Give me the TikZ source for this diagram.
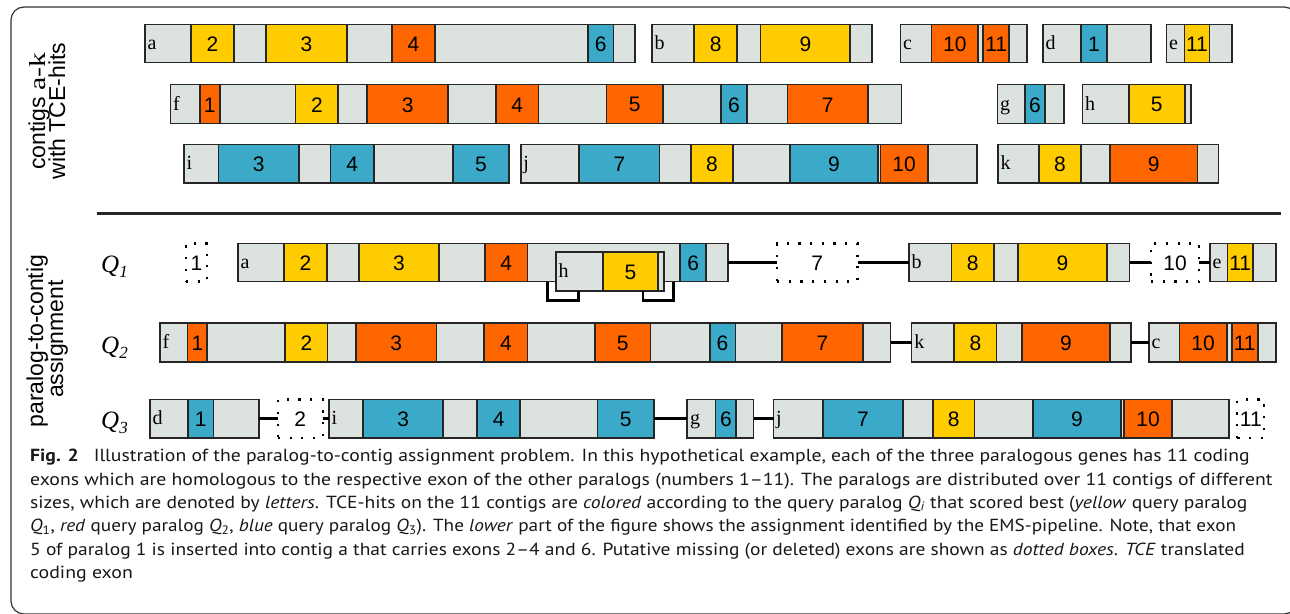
\documentclass[tikz,border=0pt]{standalone}
\usepackage{fontspec}
\usepackage{graphicx}
\usetikzlibrary{fit}
\setmainfont{PT Sans}
\newfontfamily\arialf{Liberation Sans}
\newfontfamily\timesf{Liberation Serif}
\newfontfamily\capff{PT Sans}
\definecolor{ylw}{HTML}{FFCC00}
\definecolor{org}{HTML}{FF6600}
\definecolor{blu}{HTML}{3AAAC8}
\definecolor{cgr}{HTML}{DCE3DF}
\definecolor{edge}{HTML}{262626}
\definecolor{captxt}{HTML}{1A1718}
\newcommand\digf{\arialf\fontsize{21}{21}\selectfont}
\newcommand\letf{\timesf\fontsize{20}{20}\selectfont}
\newcommand\labf{\arialf\fontsize{23}{23}\selectfont}
\newcommand\qfnt{\timesf\itshape\fontsize{25}{25}\selectfont}
\newcommand\capfont{\capff\fontsize{17.5}{17.5}\selectfont}
% contig: name, x1, x2, y1, y2, letter
\newcommand\ctg[6]{\node[ctgbox, fit={(#2,#4) (#3,#5)}] (#1) {};
  \node[lett] (#1L) at ([xshift=2.5pt,yshift=-6pt]#1.west) {#6};}
% exon: name, colour, x1, x2, y1, y2, text
\newcommand\exn[7]{\node[exbox, fill=#2, fit={(#3,#5) (#4,#6)}] (#1) {};
  \node[dig] (#1t) at ([yshift=-0.8pt]#1.center) {#7};}
% missing exon: name, x1, x2, y1, y2, text
\newcommand\mis[6]{\node[missbox, fit={(#2,#4) (#3,#5)}] (#1) {};
  \node[dig] (#1t) at ([yshift=-0.8pt]#1.center) {#6};}
\newcommand\qlab[3]{\node[qlab] (#1) at (101,#2) {Q\raisebox{-5pt}{\fontsize{17}{17}\selectfont #3}};}
% caption line: name, baseline y, width, text
\newcommand\capln[4]{\node[capline] (#1) at (30,#2) {\resizebox{#3pt}{\height}{#4}};}
\tikzset{
  ctgbox/.style={draw=edge, line width=1.7pt, fill=cgr, inner sep=0pt, outer sep=0pt},
  exbox/.style={draw=edge, line width=1.7pt, inner sep=0pt, outer sep=0pt},
  dig/.style={font=\digf, text=black, inner sep=0pt, anchor=center},
  missbox/.style={draw=black, line width=2.2pt, dash pattern=on 2.2pt off 9.5pt, inner sep=0pt, outer sep=0pt},
  lett/.style={font=\letf, inner sep=0pt, anchor=base west},
  conn/.style={line width=3pt, draw=black},
  brk/.style={line width=2.6pt, draw=black},
  rlab/.style={font=\labf, rotate=90, inner sep=0pt, anchor=base},
  qlab/.style={font=\qfnt, inner sep=0pt, anchor=base west},
  capline/.style={font=\capfont, text=captxt, inner sep=0pt, anchor=base west},
}
\begin{document}
\begin{tikzpicture}[x=1pt,y=-1pt]
\useasboundingbox (0,0) rectangle (1290,613);
\fill[white] (0,0) rectangle (1290,613);
\draw[line width=1.2pt, black!80, rounded corners=13pt] (11,7) rectangle (1297,614);

% ---------- row 1 ----------
\def\ya{24.5}\def\yb{62.5}
\ctg{ta}{145}{635}{\ya}{\yb}{a}
\exn{ta2}{ylw}{191}{234}{\ya}{\yb}{2}
\exn{ta3}{ylw}{266}{347}{\ya}{\yb}{3}
\exn{ta4}{org}{392}{435}{\ya}{\yb}{4}
\exn{ta6}{blu}{588}{613.5}{\ya}{\yb}{6}
\ctg{tb}{652}{872}{\ya}{\yb}{b}
\exn{tb8}{ylw}{694.3}{737}{\ya}{\yb}{8}
\exn{tb9}{ylw}{760.6}{850.2}{\ya}{\yb}{9}
\ctg{tc}{900.5}{1027}{\ya}{\yb}{c}
\exn{tc10}{org}{931.5}{978.3}{\ya}{\yb}{10}
\exn{tc11}{org}{983.3}{1009}{\ya}{\yb}{11}
\ctg{td}{1043}{1151}{\ya}{\yb}{d}
\exn{td1}{blu}{1081}{1107}{\ya}{\yb}{1}
\ctg{te}{1166.5}{1232}{\ya}{\yb}{e}
\exn{te11}{ylw}{1184.4}{1209.6}{\ya}{\yb}{11}

% ---------- row 2 ----------
\def\ya{84.5}\def\yb{123.5}
\ctg{tf}{170.4}{901.6}{\ya}{\yb}{f}
\exn{tf1}{org}{199.8}{219.7}{\ya}{\yb}{1}
\exn{tf2}{ylw}{295.6}{338.3}{\ya}{\yb}{2}
\exn{tf3}{org}{367.3}{448.2}{\ya}{\yb}{3}
\exn{tf4}{org}{495.9}{538.6}{\ya}{\yb}{4}
\exn{tf5}{org}{606.6}{662.8}{\ya}{\yb}{5}
\exn{tf6}{blu}{720.8}{747}{\ya}{\yb}{6}
\exn{tf7}{org}{787.6}{868}{\ya}{\yb}{7}
\ctg{tg}{997.4}{1063.7}{\ya}{\yb}{g}
\exn{tg6}{blu}{1024.7}{1045}{\ya}{\yb}{6}
\ctg{th}{1082.4}{1191}{\ya}{\yb}{h}
\exn{th5}{ylw}{1128.8}{1184.8}{\ya}{\yb}{5}

% ---------- row 3 ----------
\def\ya{144.5}\def\yb{183}
\ctg{ti}{184}{509}{\ya}{\yb}{i}
\exn{ti3}{blu}{218.5}{299}{\ya}{\yb}{3}
\exn{ti4}{blu}{330.4}{374}{\ya}{\yb}{4}
\exn{ti5}{blu}{452.7}{509}{\ya}{\yb}{5}
\ctg{tj}{520.7}{976.7}{\ya}{\yb}{j}
\exn{tj7}{blu}{579.2}{659.5}{\ya}{\yb}{7}
\exn{tj8}{ylw}{691}{732.9}{\ya}{\yb}{8}
\exn{tj9}{blu}{789.7}{878}{\ya}{\yb}{9}
\exn{tj10}{org}{880.5}{927.7}{\ya}{\yb}{10}
\ctg{tk}{997.8}{1218.4}{\ya}{\yb}{k}
\exn{tk8}{ylw}{1039.3}{1080.7}{\ya}{\yb}{8}
\exn{tk9}{org}{1109.7}{1197.6}{\ya}{\yb}{9}

% ---------- labels left ----------
\node[rlab] (lab1) at (45,111) {contigs {\timesf\scalebox{1.3}[1]{a-k}}};
\node[rlab] (lab2) at (65,111) {with TCE-hits};
\node[rlab] (lab3) at (43,341) {paralog-to-contig};
\node[rlab] (lab4) at (63,339) {assignment};

\draw[line width=2.5pt, edge] (97,213.5) -- (1281,213.5);

% ---------- Q1 ----------
\def\ya{243.5}\def\yb{281.5}
\qlab{q1lab}{272}{1}
\mis{m1}{186}{207}{\ya}{\yb}{1}
\ctg{qa}{238}{728}{\ya}{\yb}{a}
\exn{qa2}{ylw}{284}{326.7}{\ya}{\yb}{2}
\exn{qa3}{ylw}{359}{439}{\ya}{\yb}{3}
\exn{qa4}{org}{485}{527.4}{\ya}{\yb}{4}
\exn{qa6}{blu}{680.2}{706.3}{\ya}{\yb}{6}
\ctg{qh}{556}{664}{251.7}{290.7}{h}
\exn{qh5}{ylw}{602.7}{658.3}{251.7}{290.7}{5}
\draw[brk] (547.7,281.5) |- (578.7,300.5) -- (578.7,290.7);
\draw[brk] (643,290.7) |- (673.3,300.5) -- (673.3,281.5);
\mis{m7}{777}{857.5}{\ya}{\yb}{7}
\ctg{qb}{908.8}{1129.6}{\ya}{\yb}{b}
\exn{qb8}{ylw}{951.6}{993.9}{\ya}{\yb}{8}
\exn{qb9}{ylw}{1018}{1106.8}{\ya}{\yb}{9}
\mis{m10}{1151}{1199}{\ya}{\yb}{10}
\ctg{qe}{1210}{1276}{\ya}{\yb}{e}
\exn{qe11}{ylw}{1227.5}{1253}{\ya}{\yb}{11}
\draw[conn] (qa.east) -- (m7.west);
\draw[conn] (m7.east) -- (qb.west);
\draw[conn] (qb.east) -- (m10.west);
\draw[conn] (m10.east) -- (qe.west);

% ---------- Q2 ----------
\def\ya{323}\def\yb{362}
\qlab{q2lab}{353}{2}
\ctg{qf}{160}{890.6}{\ya}{\yb}{f}
\exn{qf1}{org}{187.4}{207.3}{\ya}{\yb}{1}
\exn{qf2}{ylw}{285.3}{327.5}{\ya}{\yb}{2}
\exn{qf3}{org}{355.7}{436.6}{\ya}{\yb}{3}
\exn{qf4}{org}{484.3}{527.4}{\ya}{\yb}{4}
\exn{qf5}{org}{595}{650.4}{\ya}{\yb}{5}
\exn{qf6}{blu}{709.7}{735.4}{\ya}{\yb}{6}
\exn{qf7}{org}{782.2}{862.7}{\ya}{\yb}{7}
\ctg{qk}{911.6}{1131.3}{\ya}{\yb}{k}
\exn{qk8}{ylw}{954.3}{996.6}{\ya}{\yb}{8}
\exn{qk9}{org}{1022}{1109.7}{\ya}{\yb}{9}
\ctg{qc}{1148.8}{1276}{\ya}{\yb}{c}
\exn{qc10}{org}{1179.5}{1226.7}{\ya}{\yb}{10}
\exn{qc11}{org}{1231.7}{1257.8}{\ya}{\yb}{11}
\draw[conn] (qf.east) -- (qk.west);
\draw[conn] (qk.east) -- (qc.west);

% ---------- Q3 ----------
\def\ya{399.5}\def\yb{438}
\qlab{q3lab}{428}{3}
\ctg{qd}{150}{259.3}{\ya}{\yb}{d}
\exn{qd1}{blu}{187.8}{213.5}{\ya}{\yb}{1}
\mis{m2}{277.8}{322.6}{\ya}{\yb}{2}
\ctg{qi}{328.8}{653.7}{\ya}{\yb}{i}
\exn{qi3}{blu}{363.2}{443.2}{\ya}{\yb}{3}
\exn{qi4}{blu}{477.2}{520.3}{\ya}{\yb}{4}
\exn{qi5}{blu}{597.5}{653.7}{\ya}{\yb}{5}
\ctg{qg}{687.3}{753.6}{\ya}{\yb}{g}
\exn{qg6}{blu}{715.5}{736.2}{\ya}{\yb}{6}
\ctg{qj}{773.5}{1229.2}{\ya}{\yb}{j}
\exn{qj7}{blu}{822.8}{902.9}{\ya}{\yb}{7}
\exn{qj8}{ylw}{932.7}{974.6}{\ya}{\yb}{8}
\exn{qj9}{blu}{1033}{1121}{\ya}{\yb}{9}
\exn{qj10}{org}{1124.3}{1172}{\ya}{\yb}{10}
\mis{m11}{1237.3}{1264.3}{\ya}{\yb}{11}
\draw[conn] (qd.east) -- (m2.west);
\draw[conn] (m2.east) -- (qi.west);
\draw[conn] (qi.east) -- (qg.west);
\draw[conn] (qg.east) -- (qj.west);

% ---------- caption ----------
\capln{cap1}{461}{1219.5}{\textbf{Fig. 2}\hspace{0.5em} Illustration of the paralog-to-contig assignment problem. In this hypothetical example, each of the three paralogous genes has 11 coding}
\capln{cap2}{485}{1242.3}{exons which are homologous to the respective exon of the other paralogs (numbers 1–11). The paralogs are distributed over 11 contigs of different}
\capln{cap3}{508}{1217}{sizes, which are denoted by \textit{letters}. TCE-hits on the 11 contigs are \textit{colored} according to the query paralog \textit{Q}\textsubscript{\textit{i}} that scored best (\textit{yellow} query paralog}
\capln{cap4}{531.5}{1205.8}{\textit{Q}\textsubscript{1}, \textit{red} query paralog \textit{Q}\textsubscript{2}, \textit{blue} query paralog \textit{Q}\textsubscript{3}). The \textit{lower} part of the figure shows the assignment identified by the EMS-pipeline. Note, that exon}
\capln{cap5}{555}{1214.5}{5 of paralog 1 is inserted into contig a that carries exons 2–4 and 6. Putative missing (or deleted) exons are shown as \textit{dotted boxes}. \textit{TCE} translated}
\capln{cap6}{578}{102.7}{coding exon}
\end{tikzpicture}
\end{document}
